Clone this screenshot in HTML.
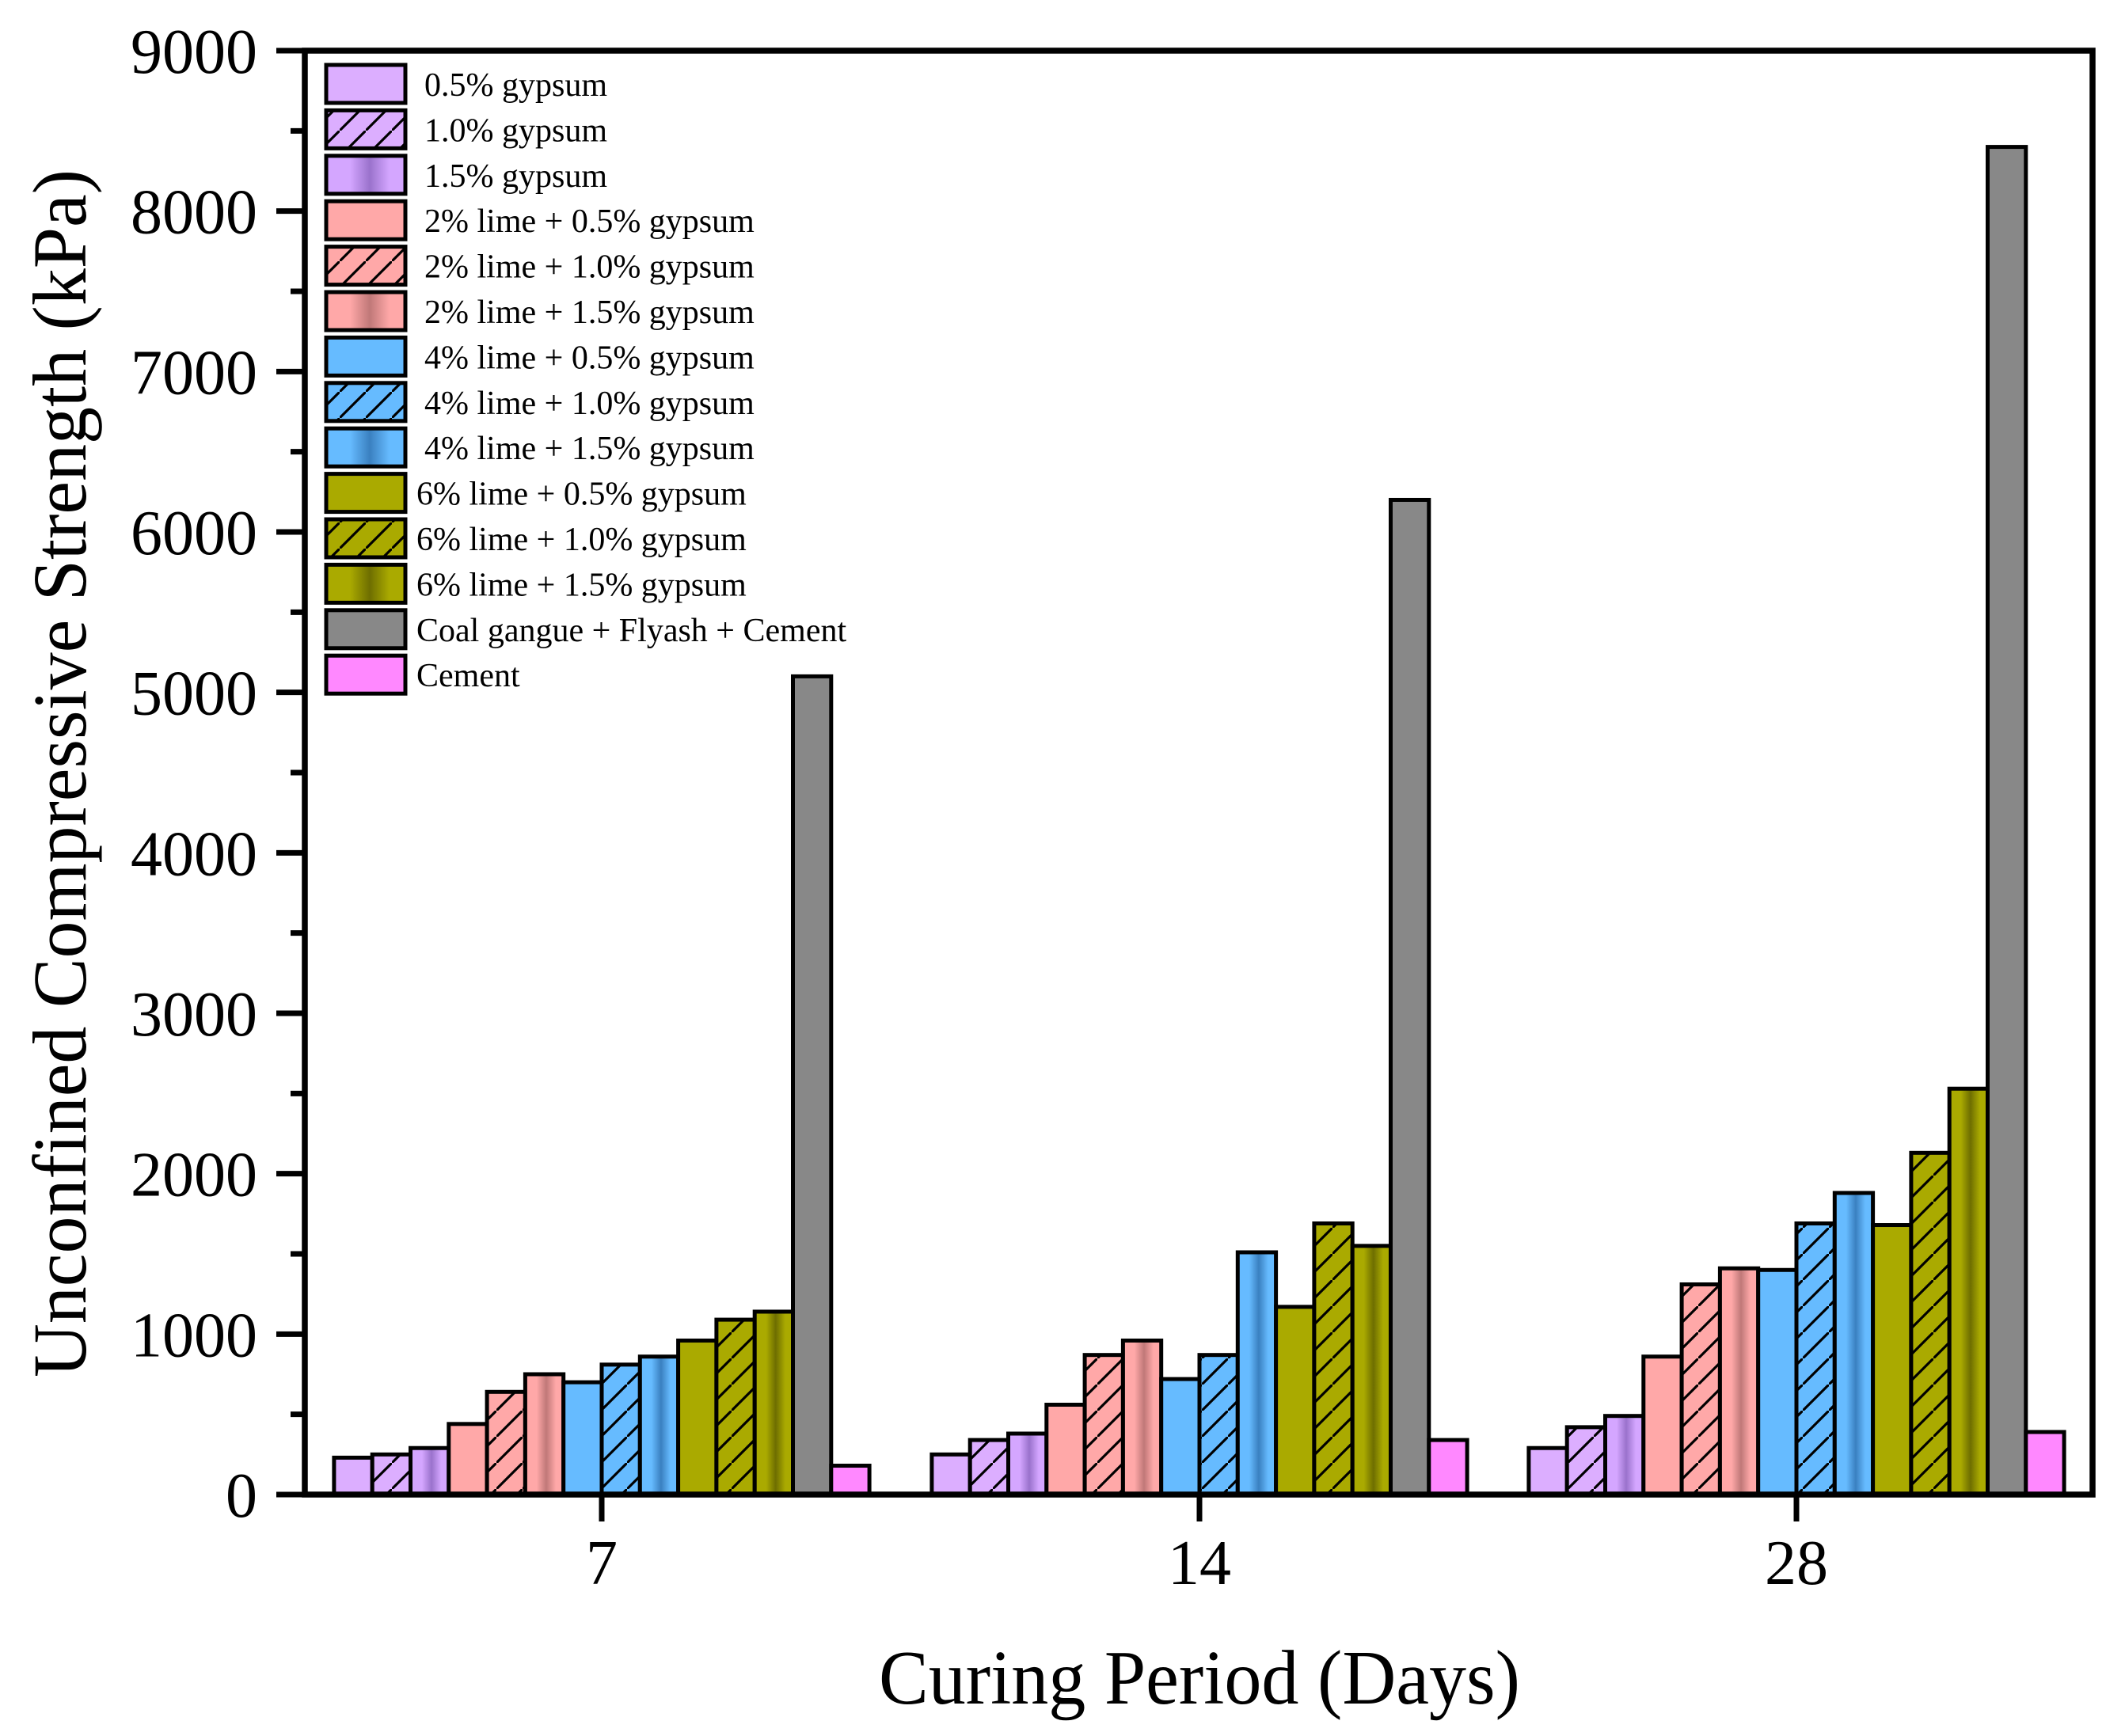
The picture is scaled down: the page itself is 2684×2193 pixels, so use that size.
<!DOCTYPE html>
<html><head><meta charset="utf-8"><style>
html,body{margin:0;padding:0;background:#fff;}
svg{display:block;font-family:"Liberation Serif",serif;}
</style></head><body>
<svg id="chart" width="2684" height="2193" viewBox="0 0 2684 2193" xmlns="http://www.w3.org/2000/svg">
<defs id="defs"></defs>
<g id="bars"></g>
<g id="axes"></g>
<g id="legend"></g>
<text x="1515" y="2152" font-size="98" text-anchor="middle" textLength="810" lengthAdjust="spacingAndGlyphs">Curing Period (Days)</text>
<text x="0" y="0" font-size="96" text-anchor="middle" textLength="1526" lengthAdjust="spacingAndGlyphs" transform="translate(108,977) rotate(-90)">Unconfined Compressive Strength (kPa)</text>
</svg>
<script>
const categories = ["7","14","28"];
const seriesNames = ["0.5% gypsum","1.0% gypsum","1.5% gypsum","2% lime + 0.5% gypsum","2% lime + 1.0% gypsum","2% lime + 1.5% gypsum","4% lime + 0.5% gypsum","4% lime + 1.0% gypsum","4% lime + 1.5% gypsum","6% lime + 0.5% gypsum","6% lime + 1.0% gypsum","6% lime + 1.5% gypsum","Coal gangue + Flyash + Cement","Cement"];
const v7  = [230,250,290,440,640,750,700,810,860,960,1090,1140,5100,180];
const v14 = [250,340,380,560,870,960,720,870,1510,1170,1690,1550,6200,340];
const v28 = [290,420,490,860,1310,1410,1400,1690,1880,1680,2130,2530,8400,390];
const seriesValues = [v7, v14, v28];
const yTicks = [0,1000,2000,3000,4000,5000,6000,7000,8000,9000];
const baseColors = ["#dcaeff","#dcaeff","#d4a6ff","#ffa8a8","#ffa8a8","#ffa8a8","#66bbff","#66bbff","#66bbff","#aaaa00","#aaaa00","#aaaa00","#888888","#ff88ff"];
const darkColors = ["#a07acc","#a07acc","#9a72cc","#c07878","#c07878","#c07878","#3a80c0","#3a80c0","#3a80c0","#6e6e00","#6e6e00","#6e6e00","#666666","#cc66cc"];
const fillKind = ["solid","hatch","grad","solid","hatch","grad","solid","hatch","grad","solid","hatch","grad","solid","solid"];

const NS="http://www.w3.org/2000/svg";
const L=385,R=2643,T=64,B=1888,YMAX=9000;
const catX=[760,1515,2269], pitch=48.3;
function y(v){return B-(v/YMAX)*(B-T);}
function xBar(c,i){return catX[c]+(i-7)*pitch;}
function mk(tag,attrs,parent){const e=document.createElementNS(NS,tag);for(const k in attrs)e.setAttribute(k,attrs[k]);parent.appendChild(e);return e;}

const defs=document.getElementById('defs');
function fillFor(i){
  if(fillKind[i]==="solid")return baseColors[i];
  if(fillKind[i]==="hatch"){
    const id="hatch"+i;
    if(!document.getElementById(id)){
      const p=mk('pattern',{id:id,patternUnits:"userSpaceOnUse",width:33,height:33},defs);
      mk('rect',{width:33,height:33,fill:baseColors[i]},p);
      mk('line',{x1:-2,y1:35,x2:35,y2:-2,stroke:"#000","stroke-width":3.2},p);
    }
    return "url(#"+id+")";
  }
  const id="grad"+i;
  if(!document.getElementById(id)){
    const g=mk('linearGradient',{id:id,x1:0,y1:0,x2:1,y2:0},defs);
    [[0,baseColors[i]],[0.3,baseColors[i]],[0.55,darkColors[i]],[0.8,baseColors[i]],[1,baseColors[i]]].forEach(s=>mk('stop',{offset:s[0],"stop-color":s[1]},g));
  }
  return "url(#"+id+")";
}

const bars=document.getElementById('bars');
seriesValues.forEach((vals,c)=>{
  vals.forEach((v,i)=>{
    const r=mk('rect',{x:xBar(c,i),y:y(v),width:pitch,height:B-y(v),fill:fillFor(i),stroke:"#000","stroke-width":5},bars);
    
    
  });
});

const axes=document.getElementById('axes');
mk('rect',{x:L,y:T,width:R-L,height:B-T,fill:"none",stroke:"#000","stroke-width":7.5,},axes);
yTicks.forEach((t,k)=>{
  const ln=mk('line',{x1:L-36,x2:L,y1:y(t),y2:y(t),stroke:"#000","stroke-width":7},axes);
  
  
  const tx=mk('text',{x:L-60,y:y(t)+28,"font-size":80,"text-anchor":"end"},axes);
  tx.textContent=t;
  
  
  if(k<yTicks.length-1){
    const m=(t+yTicks[k+1])/2;
    const mn=mk('line',{x1:L-18,x2:L,y1:y(m),y2:y(m),stroke:"#000","stroke-width":7},axes);
    
    
  }
});
categories.forEach((c,k)=>{
  const ln=mk('line',{x1:catX[k],x2:catX[k],y1:B,y2:B+34,stroke:"#000","stroke-width":7},axes);
  
  
  const tx=mk('text',{x:catX[k],y:2001,"font-size":80,"text-anchor":"middle"},axes);
  tx.textContent=c;
  
  
});

const legend=document.getElementById('legend');
seriesNames.forEach((n,i)=>{
  const top=82+i*57.4;
  const g=mk('g',{},legend);
  
  
  mk('rect',{x:412,y:top,width:100,height:48,fill:fillFor(i),stroke:"#000","stroke-width":5},g);
  const tx=mk('text',{x:i>=9?526:536,y:top+39,"font-size":42},g);
  tx.textContent=n;
});
</script>
</body></html>
